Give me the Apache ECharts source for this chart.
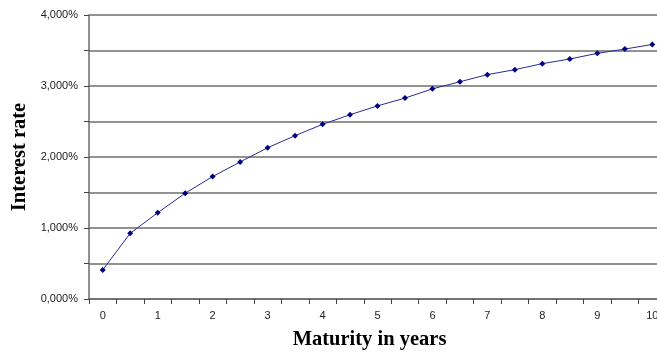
<!DOCTYPE html>
<html>
<head>
<meta charset="utf-8">
<script src="https://cdn.jsdelivr.net/npm/echarts@6/dist/echarts.min.js"></script>
<style>html,body{margin:0;padding:0;background:#fff;overflow:hidden}#c{width:657px;height:352px}</style>
</head>
<body>
<div id="c"></div>
<script>
var maturities = ['0','0.5','1','1.5','2','2.5','3','3.5','4','4.5','5','5.5','6','6.5','7','7.5','8','8.5','9','9.5','10'];
var rates = [0.41,0.925,1.215,1.49,1.725,1.93,2.13,2.30,2.46,2.595,2.72,2.83,2.96,3.06,3.16,3.23,3.315,3.38,3.46,3.52,3.585];
var xTitle = 'Maturity in years';
var yTitle = 'Interest rate';

var chart = echarts.init(document.getElementById('c'), null, {renderer:'canvas'});
chart.setOption({
  animation:false,
  backgroundColor:'#fff',
  grid:{left:89, top:15, bottom:53, width:577, containLabel:false, outerBoundsMode:'none'},
  xAxis:{
    type:'category', data:maturities, boundaryGap:true,
    name:xTitle, nameLocation:'middle', nameGap:30,
    nameTextStyle:{fontFamily:'Liberation Serif', fontWeight:'bold', fontSize:20.5, color:'#000', padding:[0,16,0,0]},
    axisLine:{lineStyle:{color:'#6a6a6a', width:1.5}},
    axisTick:{show:true, interval:0, alignWithLabel:false, length:5, lineStyle:{color:'#444', width:1}},
    axisLabel:{interval:1, margin:11, fontFamily:'Liberation Sans', fontSize:11, color:'#222'},
    splitLine:{show:false}
  },
  yAxis:{
    type:'value', min:0, max:4, interval:0.5,
    name:yTitle, nameLocation:'middle', nameGap:52, nameRotate:90,
    nameTextStyle:{fontFamily:'Liberation Serif', fontWeight:'bold', fontSize:20.5, color:'#000'},
    axisLine:{show:true, lineStyle:{color:'#6a6a6a', width:1.5}},
    axisTick:{show:true, length:5, lineStyle:{color:'#444', width:1}},
    axisLabel:{margin:11, fontFamily:'Liberation Sans', fontSize:11, color:'#222',
      formatter:function(v){ return (Math.abs(v - Math.round(v)) < 1e-9) ? v.toFixed(3).replace('.',',') + '%' : ''; }},
    splitLine:{show:true, lineStyle:{color:'#6e6e6e', width:1.5}}
  },
  series:[{
    type:'line', data:rates,
    symbol:'diamond', symbolSize:6,
    itemStyle:{color:'#000080'},
    lineStyle:{color:'#2a2a9a', width:1}
  }]
});
</script>
</body>
</html>
